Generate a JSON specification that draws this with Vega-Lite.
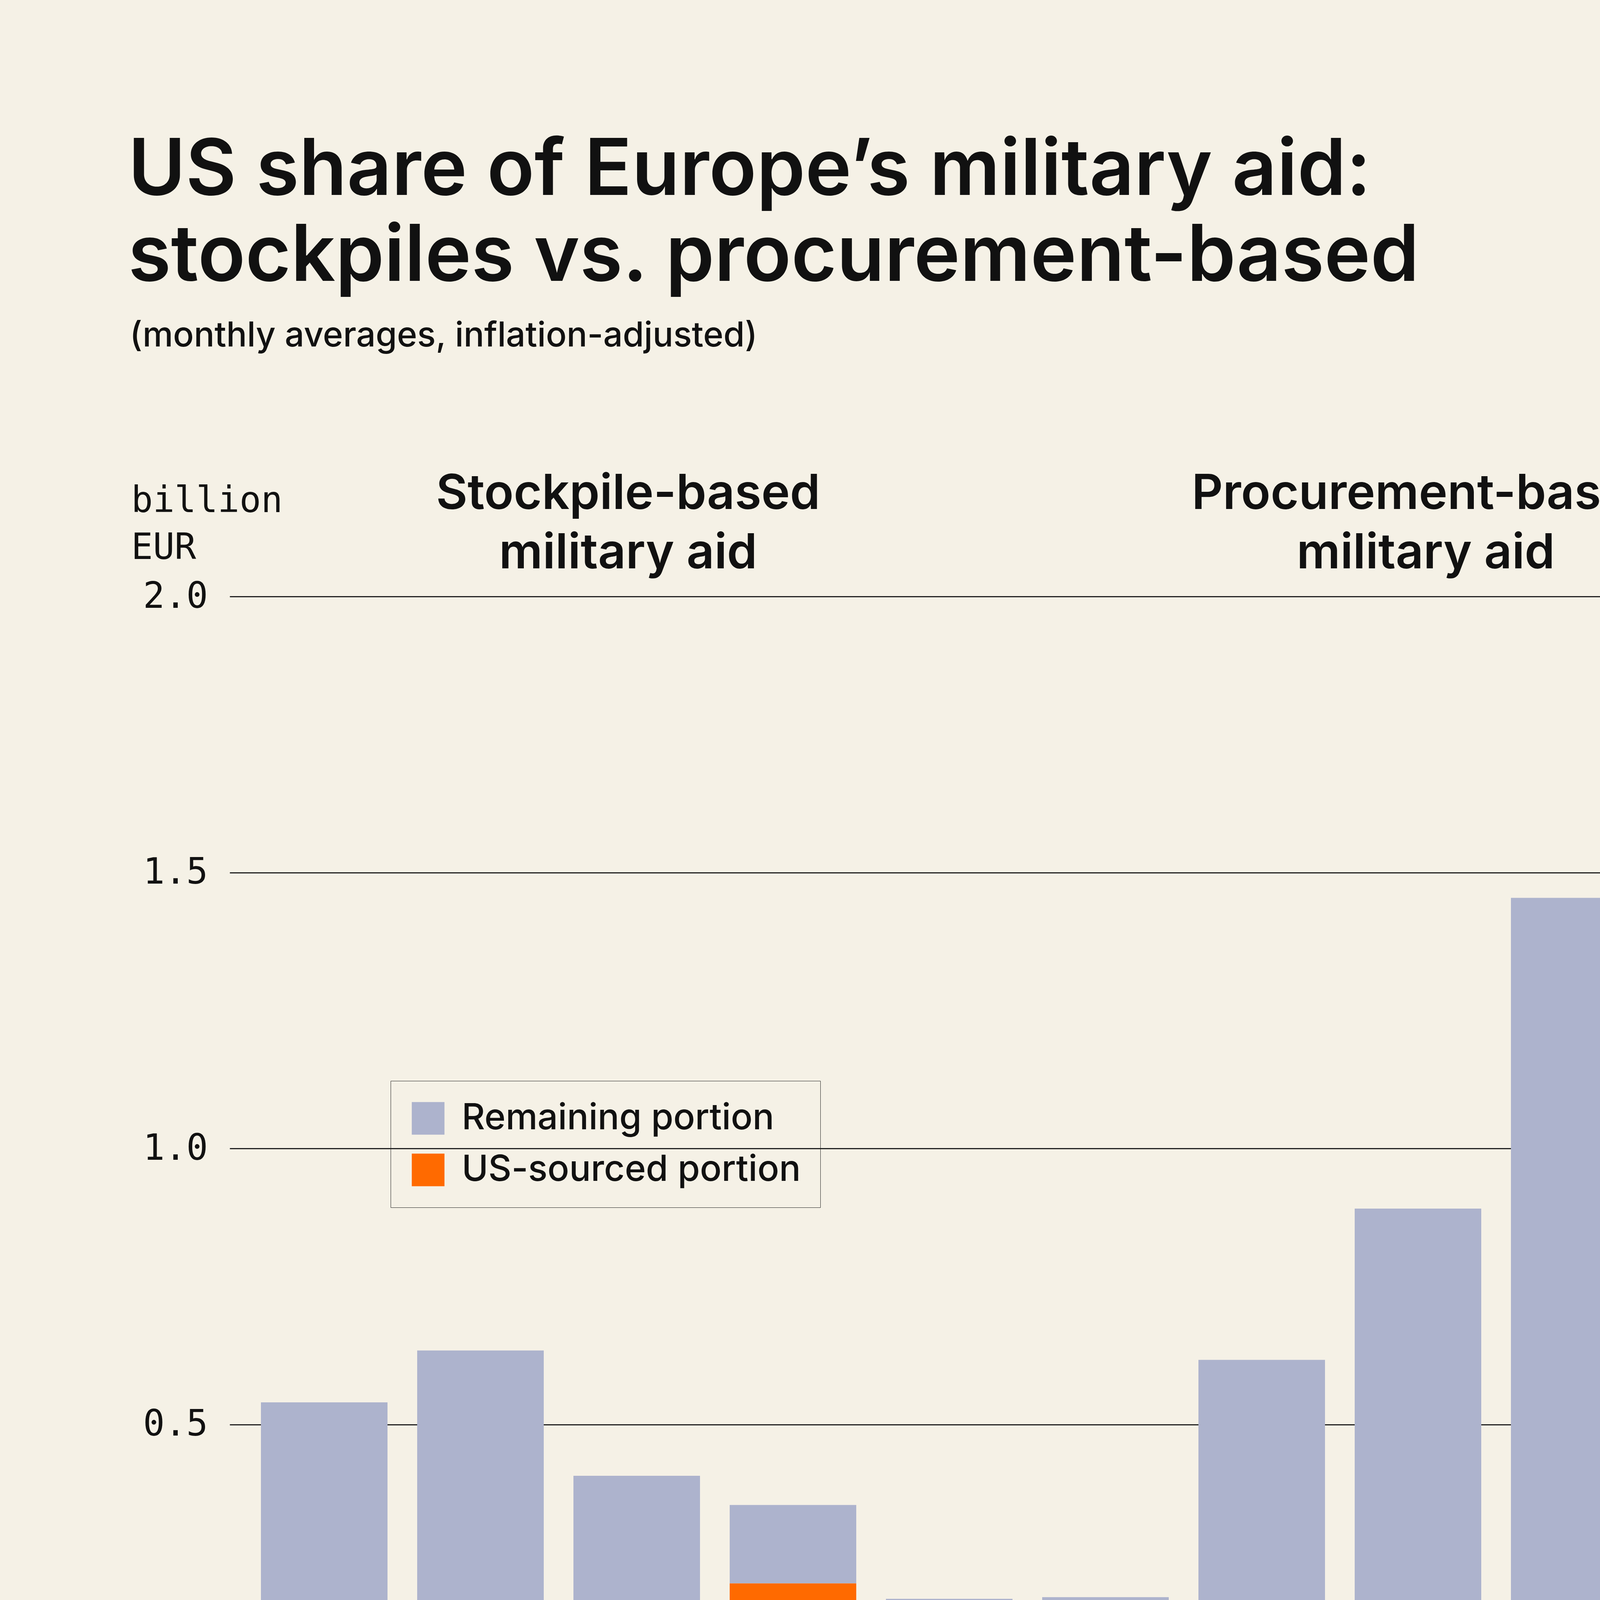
{
  "$schema": "https://vega.github.io/schema/vega-lite/v6.json",
  "autosize": "none",
  "padding": {"left": 588, "top": 1527, "right": 328, "bottom": 1912},
  "width": 4084,
  "height": 2826,
  "background": "#f5f1e6",
  "config": {
    "view": {"stroke": null},
    "font": "Inter",
    "axis": {"labelFont": "DejaVu Sans Mono", "labelFontSize": 92, "labelColor": "#111"},
    "legend": {"strokeColor": "#222", "padding": 50}
  },
  "data": {
    "values": [
      {"panel": "S", "year": "2022", "portion": "Remaining portion", "value": 0.54},
      {"panel": "S", "year": "2023", "portion": "Remaining portion", "value": 0.634},
      {"panel": "S", "year": "2024", "portion": "Remaining portion", "value": 0.407},
      {"panel": "S", "year": "2025", "portion": "Remaining portion", "value": 0.142},
      {"panel": "S", "year": "2025", "portion": "US-sourced portion", "value": 0.212},
      {"panel": "S", "year": "2026", "portion": "Remaining portion", "value": 0.011},
      {"panel": "S", "year": "2026", "portion": "US-sourced portion", "value": 0.173},
      {"panel": "P", "year": "2022", "portion": "Remaining portion", "value": 0.187},
      {"panel": "P", "year": "2023", "portion": "Remaining portion", "value": 0.586},
      {"panel": "P", "year": "2023", "portion": "US-sourced portion", "value": 0.031},
      {"panel": "P", "year": "2024", "portion": "Remaining portion", "value": 0.849},
      {"panel": "P", "year": "2024", "portion": "US-sourced portion", "value": 0.042},
      {"panel": "P", "year": "2025", "portion": "Remaining portion", "value": 1.383},
      {"panel": "P", "year": "2025", "portion": "US-sourced portion", "value": 0.071},
      {"panel": "P", "year": "2026", "portion": "Remaining portion", "value": 1.052},
      {"panel": "P", "year": "2026", "portion": "US-sourced portion", "value": 0.461}
    ]
  },
  "layer": [
    {
      "transform": [{"calculate": "datum.panel + datum.year", "as": "key"}],
      "mark": {"type": "bar"},
      "encoding": {
        "x": {
          "field": "key", "type": "ordinal", "title": null,
          "scale": {"domain": ["S2022", "S2023", "S2024", "S2025", "S2026", "P2022", "P2023", "P2024", "P2025", "P2026"], "paddingInner": 0.19, "paddingOuter": 0.2},
          "axis": {"labelAngle": 0, "ticks": false, "domainColor": "#111", "domainWidth": 4, "labelPadding": 56, "labelExpr": "substring(datum.value, 1)"}
        },
        "y": {
          "field": "value", "type": "quantitative", "aggregate": "sum", "title": null,
          "scale": {"domain": [0, 2]},
          "axis": {"values": [0, 0.5, 1, 1.5, 2], "format": ".1f", "domain": false, "ticks": false, "gridColor": "#222", "gridWidth": 3, "labelPadding": 56}
        },
        "order": {"field": "portion", "sort": "descending"},
        "color": {
          "field": "portion", "type": "nominal",
          "scale": {"domain": ["Remaining portion", "US-sourced portion"], "range": ["#adb3cd", "#ff6a00"]},
          "legend": {
            "title": null, "orient": "none", "legendX": 412, "legendY": 1240,
            "labelFont": "Inter", "labelFontSize": 92, "labelFontWeight": 500, "labelColor": "#111", "labelLimit": 2000,
            "symbolType": "square", "symbolSize": 7000, "symbolStrokeWidth": 0,
            "rowPadding": 40, "labelOffset": 40
          }
        }
      }
    },
    {"data": {"values": [{}]}, "mark": {"type": "rule", "x": 2040, "y": -320, "y2": 2886, "color": "#111", "strokeWidth": 4}, "encoding": {}},
    {"data": {"values": [{}]}, "mark": {"type": "text", "text": ["US share of Europe’s military aid:", "stockpiles vs. procurement-based"], "x": -260, "y": -1028, "align": "left", "baseline": "alphabetic", "fontSize": 200, "fontWeight": 600, "lineHeight": 220, "color": "#111"}, "encoding": {}},
    {"data": {"values": [{}]}, "mark": {"type": "text", "text": "(monthly averages, inflation-adjusted)", "x": -256, "y": -640, "align": "left", "baseline": "alphabetic", "fontSize": 88, "fontWeight": 500, "color": "#111"}, "encoding": {}},
    {"data": {"values": [{}]}, "mark": {"type": "text", "text": ["billion", "EUR"], "x": -252, "y": -216, "align": "left", "baseline": "alphabetic", "font": "DejaVu Sans Mono", "fontSize": 92, "lineHeight": 120, "color": "#111"}, "encoding": {}},
    {"data": {"values": [{}]}, "mark": {"type": "text", "text": ["Stockpile-based", "military aid"], "x": 1020, "y": -224, "align": "center", "baseline": "alphabetic", "fontSize": 124, "fontWeight": 600, "lineHeight": 152, "color": "#111"}, "encoding": {}},
    {"data": {"values": [{}]}, "mark": {"type": "text", "text": ["Procurement-based", "military aid"], "x": 3062, "y": -224, "align": "center", "baseline": "alphabetic", "fontSize": 124, "fontWeight": 600, "lineHeight": 152, "color": "#111"}, "encoding": {}},
    {"data": {"values": [{}]}, "mark": {"type": "text", "text": [
      "Note: The figure shows the US share of Europe’s military aid from",
      "military stockpiles (left) and defense industry procurement (right).",
      "Orange indicates the share that can be clearly attributed to the",
      "United States, while grey represents the remaining share of Europe’s",
      "military aid. The reported US shares should therefore be regarded as",
      "minimum estimates. The figures are reported as monthly averages,",
      "with the 2026 figures covering the period from January to June."],
      "x": -252, "y": 3416, "align": "left", "baseline": "alphabetic", "fontSize": 90, "lineHeight": 117, "color": "#222"}, "encoding": {}},
    {"data": {"values": [{}]}, "mark": {"type": "text", "text": "Source: Trebesch et al. (2026) Ukraine Support Tracker", "x": -252, "y": 4404, "align": "left", "baseline": "alphabetic", "fontSize": 90, "fontWeight": 600, "color": "#111"}, "encoding": {}},
    {"data": {"values": [{}]}, "mark": {"type": "text", "text": "kielinstitut.de/ukrainetracker", "x": 4084, "y": 4400, "align": "right", "baseline": "alphabetic", "font": "DejaVu Sans Mono", "fontSize": 76, "color": "#111"}, "encoding": {}},
    {"data": {"values": [{}]}, "mark": {"type": "rect", "x": 3150, "x2": 3186, "y": 3923, "y2": 4083, "color": "#000"}, "encoding": {}},
    {"data": {"values": [{}]}, "mark": {"type": "rect", "x": 3202, "x2": 3228, "y": 3923, "y2": 4083, "color": "#000"}, "encoding": {}},
    {"data": {"values": [{}]}, "mark": {"type": "rect", "x": 3245, "x2": 3260, "y": 3923, "y2": 4083, "color": "#000"}, "encoding": {}},
    {"data": {"values": [{}]}, "mark": {"type": "rect", "x": 3276, "x2": 3286, "y": 3923, "y2": 4083, "color": "#000"}, "encoding": {}},
    {"data": {"values": [{}]}, "mark": {"type": "rect", "x": 3175, "x2": 3211, "y": 4083, "y2": 4243, "color": "#000"}, "encoding": {}},
    {"data": {"values": [{}]}, "mark": {"type": "rect", "x": 3225, "x2": 3294, "y": 4083, "y2": 4243, "color": "#000"}, "encoding": {}},
    {"data": {"values": [{}]}, "mark": {"type": "text", "text": ["KIEL", "Institut"], "x": 3306, "y": 4076, "align": "left", "baseline": "alphabetic", "font": "Liberation Sans Narrow", "fontSize": 214, "fontWeight": "bold", "lineHeight": 167, "color": "#000"}, "encoding": {}}
  ]
}
